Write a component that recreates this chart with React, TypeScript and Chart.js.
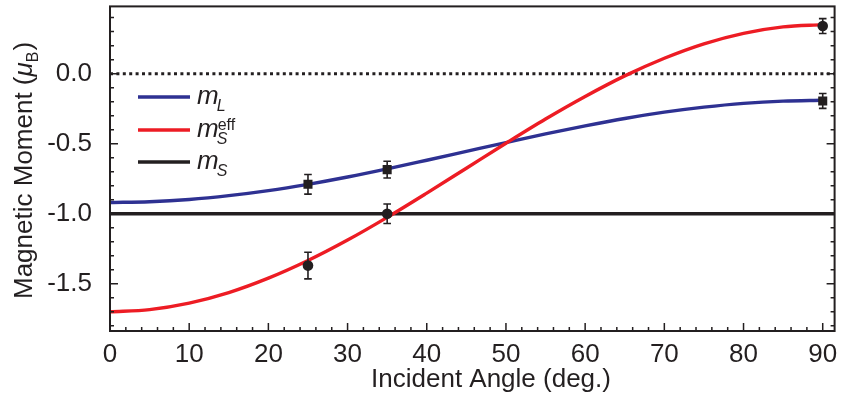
import { useEffect, useRef } from "react";
import { Chart, registerables } from "chart.js";

Chart.register(...registerables);

const FONT = '"Liberation Sans", Arial, Helvetica, sans-serif';
const INK = "#231f20";
const BLUE = "#2e3192";
const RED = "#ed1c24";

// Model curves versus incident angle (degrees)
const angles = [0, 5, 10, 15, 20, 25, 30, 35, 40, 45, 50, 55, 60, 65, 70, 75, 80, 85, 90];
const orbitalMoment = [
  -0.92, -0.914, -0.898, -0.871, -0.835, -0.79, -0.738, -0.68, -0.618, -0.555,
  -0.492, -0.43, -0.373, -0.32, -0.275, -0.239, -0.212, -0.196, -0.19,
];
const effectiveSpin = [
  -1.7, -1.684, -1.638, -1.563, -1.46, -1.334, -1.188, -1.026, -0.853, -0.675,
  -0.497, -0.324, -0.163, -0.016, 0.11, 0.213, 0.288, 0.334, 0.35,
];
const spinMoment = -1.0;

// Measured points with error bars
const measuredAngles = [25, 35, 90];
const measuredOrbital = [-0.79, -0.685, -0.195];
const orbitalError = [0.07, 0.06, 0.053];
const measuredSpinEff = [-1.37, -1.0, 0.34];
const spinEffError = [0.095, 0.07, 0.053];

// Axis extents and labels
const xMin = 0;
const xMax = 91.5;
const yMin = -1.837;
const yMax = 0.48;
const xTitle = "Incident Angle (deg.)";
const yTitleMain = "Magnetic Moment (";

const pts = (xs: number[], ys: number[]) => xs.map((x, i) => ({ x, y: ys[i] }));

const decor = {
  id: "figureDecor",
  afterDatasetsDraw(chart: any) {
    const { ctx, scales } = chart;
    const x = scales.x;
    const y = scales.y;
    ctx.save();
    ctx.strokeStyle = INK;
    ctx.lineWidth = 1.6;
    const bar = (vals: number[], errs: number[]) => {
      measuredAngles.forEach((a, i) => {
        const px = x.getPixelForValue(a);
        const y1 = y.getPixelForValue(vals[i] + errs[i]);
        const y2 = y.getPixelForValue(vals[i] - errs[i]);
        ctx.beginPath();
        ctx.moveTo(px, y1);
        ctx.lineTo(px, y2);
        ctx.moveTo(px - 3.8, y1);
        ctx.lineTo(px + 3.8, y1);
        ctx.moveTo(px - 3.8, y2);
        ctx.lineTo(px + 3.8, y2);
        ctx.stroke();
      });
    };
    bar(measuredOrbital, orbitalError);
    bar(measuredSpinEff, spinEffError);
    ctx.restore();
  },
  afterDraw(chart: any) {
    const { ctx, chartArea, scales } = chart;
    const { left, right, top, bottom } = chartArea;
    const x = scales.x;
    const y = scales.y;
    ctx.save();
    ctx.strokeStyle = INK;
    ctx.lineWidth = 2;
    ctx.strokeRect(left, top, right - left, bottom - top);

    // inward ticks
    ctx.lineWidth = 1.5;
    ctx.beginPath();
    for (let v = 0; v <= 90; v += 2) {
      const px = x.getPixelForValue(v);
      const len = v % 10 === 0 ? 8 : 4;
      ctx.moveTo(px, bottom);
      ctx.lineTo(px, bottom - len);
    }
    for (let i = -18; i <= 4; i++) {
      const py = y.getPixelForValue(i / 10);
      const len = i % 5 === 0 ? 8 : 4;
      ctx.moveTo(left, py);
      ctx.lineTo(left + len, py);
      ctx.moveTo(right, py);
      ctx.lineTo(right - len, py);
    }
    ctx.stroke();

    ctx.fillStyle = INK;
    ctx.textBaseline = "alphabetic";

    // x title
    ctx.font = `26px ${FONT}`;
    ctx.textAlign = "center";
    ctx.fillText(xTitle, 491, 387);

    // y title with mu_B
    ctx.save();
    ctx.translate(32, 299);
    ctx.rotate(-Math.PI / 2);
    ctx.textAlign = "left";
    let cx = 0;
    ctx.font = `26px ${FONT}`;
    ctx.fillText(yTitleMain, cx, 0);
    cx += ctx.measureText(yTitleMain).width;
    ctx.font = `italic 26px ${FONT}`;
    ctx.fillText("\u03bc", cx, 0);
    cx += ctx.measureText("\u03bc").width;
    ctx.font = `16px ${FONT}`;
    ctx.fillText("B", cx, 6);
    cx += ctx.measureText("B").width + 1;
    ctx.font = `26px ${FONT}`;
    ctx.fillText(")", cx, 0);
    ctx.restore();

    // legend
    const entries = [
      { color: BLUE, y: 97, sub: "L", sup: "" },
      { color: RED, y: 130, sub: "S", sup: "eff" },
      { color: INK, y: 162, sub: "S", sup: "" },
    ];
    ctx.textAlign = "left";
    entries.forEach((e) => {
      ctx.strokeStyle = e.color;
      ctx.lineWidth = 3.4;
      ctx.beginPath();
      ctx.moveTo(138, e.y);
      ctx.lineTo(190, e.y);
      ctx.stroke();
      ctx.fillStyle = INK;
      ctx.font = `italic 26px ${FONT}`;
      const base = e.y + 6.5;
      ctx.fillText("m", 197, base);
      const mx = 197 + ctx.measureText("m").width - 2;
      ctx.font = `italic 16px ${FONT}`;
      ctx.fillText(e.sub, mx, base + 7);
      if (e.sup) {
        ctx.font = `16px ${FONT}`;
        ctx.fillText(e.sup, mx + 1, base - 7);
      }
    });
    ctx.restore();
  },
};

export default function App() {
  const ref = useRef<HTMLCanvasElement | null>(null);

  useEffect(() => {
    if (!ref.current) return;
    const chart = new Chart(ref.current, {
      type: "scatter",
      data: {
        datasets: [
          {
            label: "mL data",
            data: pts(measuredAngles, measuredOrbital),
            pointStyle: "rect",
            pointRadius: 6.4,
            backgroundColor: INK,
            borderColor: INK,
            borderWidth: 0,
            order: 0,
          },
          {
            label: "mS eff data",
            data: pts(measuredAngles, measuredSpinEff),
            pointStyle: "circle",
            pointRadius: 5.3,
            backgroundColor: INK,
            borderColor: INK,
            borderWidth: 0,
            order: 0,
          },
          {
            label: "mS eff",
            data: pts(angles, effectiveSpin),
            showLine: true,
            borderColor: RED,
            borderWidth: 3.4,
            pointRadius: 0,
            cubicInterpolationMode: "monotone",
            order: 1,
          },
          {
            label: "mL",
            data: pts(angles, orbitalMoment),
            showLine: true,
            borderColor: BLUE,
            borderWidth: 3.4,
            pointRadius: 0,
            cubicInterpolationMode: "monotone",
            order: 2,
          },
          {
            label: "mS",
            data: [
              { x: xMin, y: spinMoment },
              { x: xMax, y: spinMoment },
            ],
            showLine: true,
            borderColor: INK,
            borderWidth: 3.4,
            pointRadius: 0,
            order: 3,
          },
          {
            label: "zero",
            data: [
              { x: xMin, y: 0 },
              { x: xMax, y: 0 },
            ],
            showLine: true,
            borderColor: INK,
            borderWidth: 3,
            borderDash: [3, 3.4],
            pointRadius: 0,
            order: 4,
          },
        ],
      },
      options: {
        animation: false,
        responsive: false,
        devicePixelRatio: 1,
        layout: { padding: { left: 0, right: 2, top: 4, bottom: 0 } },
        plugins: { legend: { display: false }, tooltip: { enabled: false } },
        scales: {
          x: {
            type: "linear",
            min: xMin,
            max: xMax,
            grid: { display: false },
            border: { display: false },
            ticks: {
              stepSize: 10,
              includeBounds: false,
              padding: 0,
              color: INK,
              font: { family: FONT, size: 26 },
              maxRotation: 0,
              callback: (v: any) => String(v),
            },
            afterFit: (s: any) => {
              s.height = 67;
              s.paddingLeft = 0;
              s.paddingRight = 0;
            },
          },
          y: {
            type: "linear",
            min: yMin,
            max: yMax,
            grid: { display: false },
            border: { display: false },
            ticks: {
              stepSize: 0.5,
              includeBounds: false,
              padding: 10,
              color: INK,
              font: { family: FONT, size: 26 },
              callback: (v: any) => Number(v).toFixed(1),
            },
            afterFit: (s: any) => {
              s.width = 110;
              s.paddingTop = 0;
              s.paddingBottom = 0;
            },
          },
        },
      },
      plugins: [decor],
    });
    return () => chart.destroy();
  }, []);

  return (
    <div style={{ position: "fixed", left: 0, top: 0, width: 841, height: 398, background: "#fff" }}>
      <canvas ref={ref} width={841} height={398} />
    </div>
  );
}
